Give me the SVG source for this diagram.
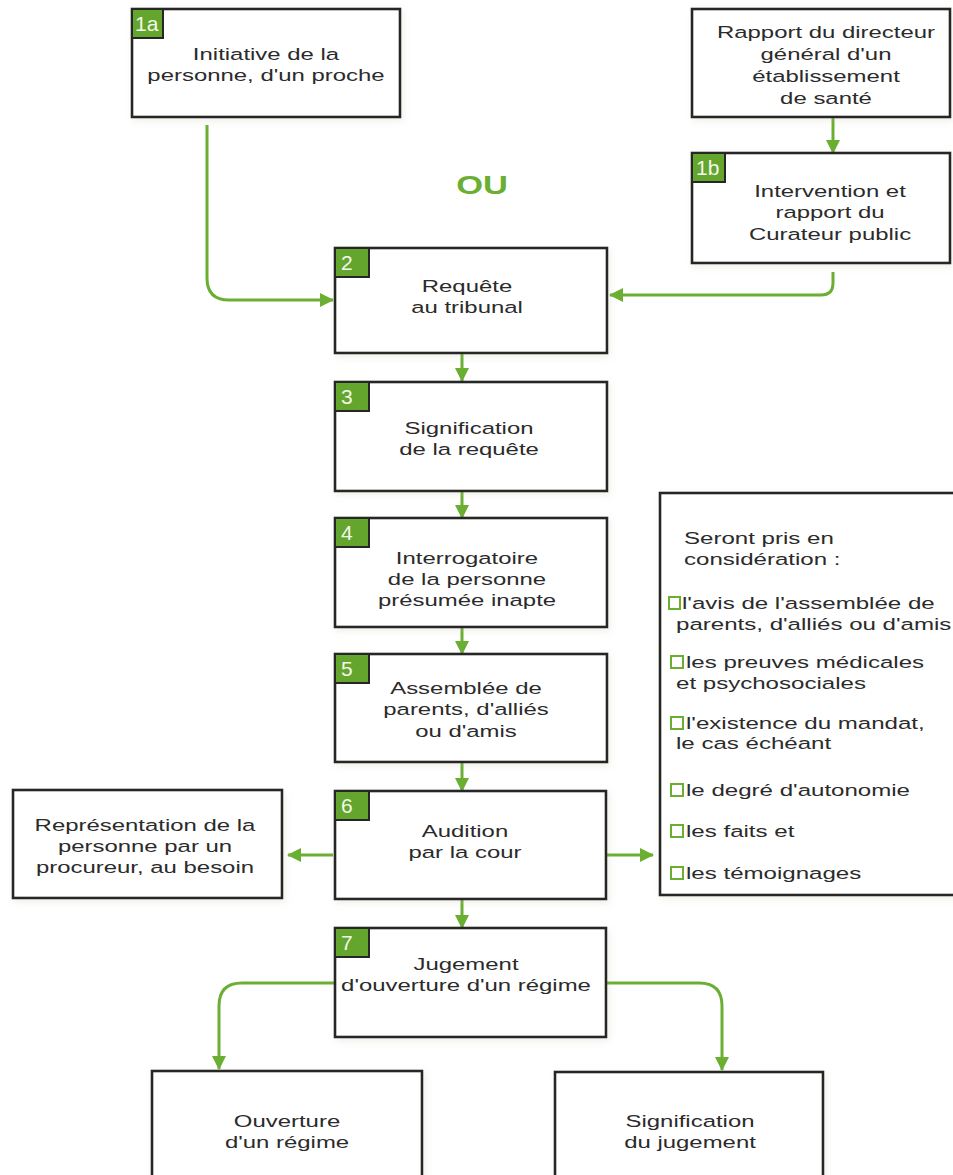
<svg xmlns="http://www.w3.org/2000/svg" width="953" height="1175" viewBox="0 0 953 1175">
<style>
.box{fill:#fff;stroke:#262626;stroke-width:2.6}
.badge{fill:#64a52d;stroke:#262626;stroke-width:2}
.num{font-family:"Liberation Sans",Arial,sans-serif;font-size:21px;fill:#f2f8ea}
.t{font-family:"Liberation Sans",Arial,sans-serif;font-size:16.5px;fill:#2b2b2b;text-anchor:middle}
.l{font-family:"Liberation Sans",Arial,sans-serif;font-size:16.5px;fill:#2b2b2b}
.con{fill:none;stroke:#6aaf32;stroke-width:3}
.chk{fill:#fff;stroke:#6aaf32;stroke-width:2}
.ou{font-family:"Liberation Sans",Arial,sans-serif;font-size:25px;font-weight:bold;fill:#6aaf32;text-anchor:middle}
</style>
<defs>
<marker id="ah" markerUnits="userSpaceOnUse" markerWidth="14" markerHeight="14" refX="13" refY="7" orient="auto">
<path d="M0,0 L14,7 L0,14 z" fill="#6aaf32"/>
</marker>
<filter id="sh" x="-10%" y="-10%" width="120%" height="125%">
<feDropShadow dx="2" dy="3" stdDeviation="3" flood-color="#b0a890" flood-opacity="0.18"/>
</filter>
</defs>
<rect width="953" height="1175" fill="#fff"/>

<g id="connectors">
<path class="con" marker-end="url(#ah)" d="M207,125 L207,278 Q207,300 229,300 L333,300"/>
<path class="con" marker-end="url(#ah)" d="M833,118 L833,153"/>
<path class="con" marker-end="url(#ah)" d="M833,272 L833,283 Q833,295 821,295 L610,295"/>
<path class="con" marker-end="url(#ah)" d="M462,353 L462,381"/>
<path class="con" marker-end="url(#ah)" d="M462,491 L462,518"/>
<path class="con" marker-end="url(#ah)" d="M462,627 L462,654"/>
<path class="con" marker-end="url(#ah)" d="M462,762 L462,791"/>
<path class="con" marker-end="url(#ah)" d="M462,899 L462,928"/>
<path class="con" marker-end="url(#ah)" d="M333,855 L288,855"/>
<path class="con" marker-end="url(#ah)" d="M607,855 L653,855"/>
<path class="con" marker-end="url(#ah)" d="M335,983 L242,983 Q219,983 219,1006 L219,1069"/>
<path class="con" marker-end="url(#ah)" d="M606,983 L699,983 Q722,983 722,1006 L722,1070"/>
</g>

<text class="ou" transform="translate(482,194) scale(1.38,1)">OU</text>

<g id="n1a">
<rect class="box" filter="url(#sh)" x="132" y="9" width="268" height="108"/>
<rect class="badge" x="132" y="9" width="31" height="29"/>
<text class="num" x="135" y="31">1a</text>
<text class="t" transform="translate(266,60) scale(1.45,1)">Initiative de la</text>
<text class="t" transform="translate(266,81) scale(1.45,1)">personne, d'un proche</text>
</g>

<g id="nrapport">
<rect class="box" filter="url(#sh)" x="692" y="9" width="258" height="108"/>
<text class="t" transform="translate(826,38) scale(1.45,1)">Rapport du directeur</text>
<text class="t" transform="translate(826,60) scale(1.45,1)">général d'un</text>
<text class="t" transform="translate(826,82) scale(1.45,1)">établissement</text>
<text class="t" transform="translate(826,104) scale(1.45,1)">de santé</text>
</g>

<g id="n1b">
<rect class="box" filter="url(#sh)" x="692" y="153" width="258" height="110"/>
<rect class="badge" x="692" y="153" width="33" height="29"/>
<text class="num" x="696" y="175">1b</text>
<text class="t" transform="translate(830,197) scale(1.45,1)">Intervention et</text>
<text class="t" transform="translate(830,218) scale(1.45,1)">rapport du</text>
<text class="t" transform="translate(830,240) scale(1.45,1)">Curateur public</text>
</g>

<g id="n2">
<rect class="box" filter="url(#sh)" x="335" y="248" width="272" height="105"/>
<rect class="badge" x="335" y="248" width="34" height="29"/>
<text class="num" x="341" y="270">2</text>
<text class="t" transform="translate(467,292) scale(1.45,1)">Requête</text>
<text class="t" transform="translate(467,313) scale(1.45,1)">au tribunal</text>
</g>

<g id="n3">
<rect class="box" filter="url(#sh)" x="335" y="382" width="272" height="109"/>
<rect class="badge" x="335" y="382" width="34" height="29"/>
<text class="num" x="341" y="404">3</text>
<text class="t" transform="translate(469,434) scale(1.45,1)">Signification</text>
<text class="t" transform="translate(469,455) scale(1.45,1)">de la requête</text>
</g>

<g id="n4">
<rect class="box" filter="url(#sh)" x="335" y="518" width="272" height="109"/>
<rect class="badge" x="335" y="518" width="34" height="29"/>
<text class="num" x="341" y="540">4</text>
<text class="t" transform="translate(467,564) scale(1.45,1)">Interrogatoire</text>
<text class="t" transform="translate(467,585) scale(1.45,1)">de la personne</text>
<text class="t" transform="translate(467,606) scale(1.45,1)">présumée inapte</text>
</g>

<g id="n5">
<rect class="box" filter="url(#sh)" x="335" y="654" width="272" height="108"/>
<rect class="badge" x="335" y="654" width="34" height="29"/>
<text class="num" x="341" y="676">5</text>
<text class="t" transform="translate(466,694) scale(1.45,1)">Assemblée de</text>
<text class="t" transform="translate(466,715) scale(1.45,1)">parents, d'alliés</text>
<text class="t" transform="translate(466,737) scale(1.45,1)">ou d'amis</text>
</g>

<g id="n6">
<rect class="box" filter="url(#sh)" x="335" y="791" width="271" height="108"/>
<rect class="badge" x="335" y="791" width="34" height="29"/>
<text class="num" x="341" y="813">6</text>
<text class="t" transform="translate(465,837) scale(1.45,1)">Audition</text>
<text class="t" transform="translate(465,858) scale(1.45,1)">par la cour</text>
</g>

<g id="n7">
<rect class="box" filter="url(#sh)" x="335" y="928" width="271" height="109"/>
<rect class="badge" x="335" y="928" width="34" height="29"/>
<text class="num" x="341" y="950">7</text>
<text class="t" transform="translate(466,970) scale(1.45,1)">Jugement</text>
<text class="t" transform="translate(466,991) scale(1.45,1)">d'ouverture d'un régime</text>
</g>

<g id="nrepresentation">
<rect class="box" filter="url(#sh)" x="13" y="790" width="269" height="108"/>
<text class="t" transform="translate(145,831) scale(1.45,1)">Représentation de la</text>
<text class="t" transform="translate(145,852) scale(1.45,1)">personne par un</text>
<text class="t" transform="translate(145,873) scale(1.45,1)">procureur, au besoin</text>
</g>

<g id="nconsiderations">
<rect class="box" filter="url(#sh)" x="660" y="493" width="310" height="402"/>
<text class="l" transform="translate(684,544) scale(1.46,1)">Seront pris en</text>
<text class="l" transform="translate(684,565) scale(1.46,1)">considération :</text>
<rect class="chk" x="669" y="597" width="11" height="12"/>
<text class="l" transform="translate(682,609) scale(1.46,1)">l'avis de l'assemblée de</text>
<text class="l" transform="translate(676,630) scale(1.46,1)">parents, d'alliés ou d'amis</text>
<rect class="chk" x="671" y="656" width="12" height="12"/>
<text class="l" transform="translate(686,668) scale(1.46,1)">les preuves médicales</text>
<text class="l" transform="translate(676,689) scale(1.46,1)">et psychosociales</text>
<rect class="chk" x="671" y="717" width="12" height="12"/>
<text class="l" transform="translate(686,729) scale(1.46,1)">l'existence du mandat,</text>
<text class="l" transform="translate(676,749) scale(1.46,1)">le cas échéant</text>
<rect class="chk" x="671" y="784" width="12" height="12"/>
<text class="l" transform="translate(686,796) scale(1.46,1)">le degré d'autonomie</text>
<rect class="chk" x="671" y="825" width="12" height="12"/>
<text class="l" transform="translate(686,837) scale(1.46,1)">les faits et</text>
<rect class="chk" x="671" y="867" width="12" height="12"/>
<text class="l" transform="translate(686,879) scale(1.46,1)">les témoignages</text>
</g>

<g id="nouverture">
<rect class="box" filter="url(#sh)" x="152" y="1071" width="270" height="120"/>
<text class="t" transform="translate(287,1127) scale(1.45,1)">Ouverture</text>
<text class="t" transform="translate(287,1148) scale(1.45,1)">d'un régime</text>
</g>

<g id="nsignification">
<rect class="box" filter="url(#sh)" x="555" y="1072" width="268" height="120"/>
<text class="t" transform="translate(690,1127) scale(1.45,1)">Signification</text>
<text class="t" transform="translate(690,1148) scale(1.45,1)">du jugement</text>
</g>
</svg>
